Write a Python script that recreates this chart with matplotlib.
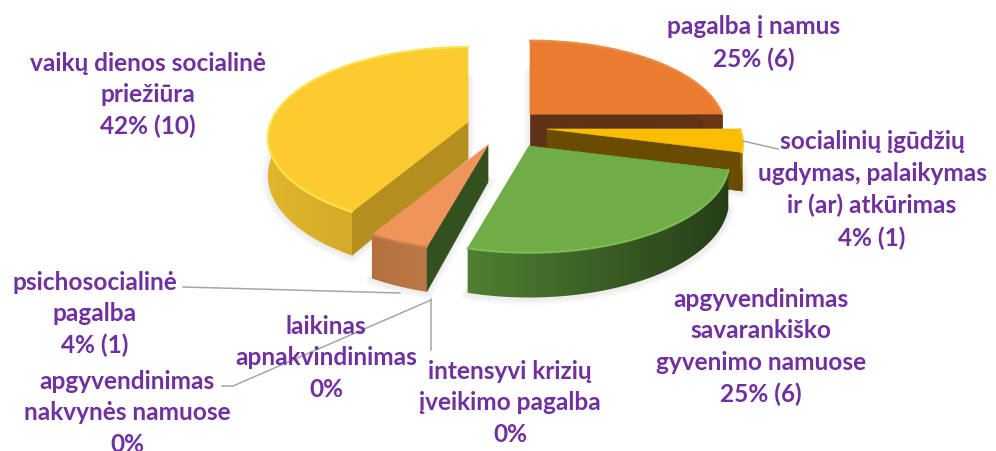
import numpy as np
import matplotlib
matplotlib.use("Agg")
import matplotlib.pyplot as plt
from matplotlib.patches import Polygon
from matplotlib.colors import to_rgb

names = ["pagalba į namus", "socialinių įgūdžių\nugdymas, palaikymas\nir (ar) atkūrimas",
         "apgyvendinimas\nsavarankiško\ngyvenimo namuose", "intensyvi krizių\nįveikimo pagalba",
         "laikinas\napnakvindinimas", "apgyvendinimas\nnakvynės namuose",
         "psichosocialinė\npagalba", "vaikų dienos socialinė\npriežiūra"]
counts = [6, 1, 6, 0, 0, 0, 1, 10]

# offset of each exploded slice from the pie centre, and its size
shift_x = [30, 47, 29, 0, 0, 0, -12, -32]
shift_y = [-13, 2, 19, 0, 0, 0, 18, -5]
scale = [0.975, 0.98, 1.0, 1, 1, 1, 1.0, 1.0]

label_x = [754, 872, 761, 510, 326, 127, 95, 148]
label_y = [43, 190, 347, 403, 358, 413, 314, 95]

top_colors = ["#E97C30", "#FBBD00", "#6FAD47", "#000000", "#000000", "#000000", "#EF945A", "#FBCB2F"]
rim_colors = ["#EE8A45", "#FFCB2A", "#7DBB55", "#000000", "#000000", "#000000", "#C98050", "#FFE04F"]
# outer wall: colour at left and at right end of the slice
wall_left = ["#6A3616", "#8A6500", "#4F7F31", "#000000", "#000000", "#000000", "#B5723F", "#E0B62C"]
wall_right = ["#6A3616", "#8A6500", "#263E18", "#000000", "#000000", "#000000", "#BB7844", "#C29A22"]
# flat cut side: colour on the start edge and the end edge
side_start = ["#5F3116", "#5F3116", "#2C451C", "#000000", "#000000", "#000000", "#32511F", "#B38F20"]
side_end = ["#5F3116", "#6A4C00", "#2C451C", "#000000", "#000000", "#000000", "#B5723F", "#B38F20"]
draw_order = [0, 1, 7, 6, 2]

cx, cy = 500, 128
rx, ry = 197, 88
persp = 0.175
depth = 37
text_color = "#7030A0"
line_color = "#A6A6A6"

z = 1


def next_z():
    global z
    z += 1
    return z


def project(ang, r, ax0, ay0, drop=0.0):
    # ang in degrees clockwise from 12 o'clock, tilted disc with a bit of perspective
    a = np.radians(ang)
    xx = r * np.sin(a)
    yy = r * np.cos(a)
    s = 1 / (1 + persp * yy)
    return ax0 + rx * xx * s, ay0 - ry * yy * s + drop * s


def gradient(c0, c1):
    c0, c1 = np.array(to_rgb(c0)), np.array(to_rgb(c1))
    t = np.linspace(0, 1, 64)[None, :, None]
    return c0[None, None, :] + (c1 - c0)[None, None, :] * t


def draw_slice(ax, i, a0, a1):
    ax0 = cx + shift_x[i]
    ay0 = cy + shift_y[i]
    r = scale[i]

    # soft shadow under the slice
    sx, sy = project(np.linspace(a0, a1, 120), r, ax0, ay0, depth + 1)
    sx = np.r_[ax0, sx, ax0]
    sy = np.r_[ay0 + depth, sy, ay0 + depth]
    zz = next_z()
    for lw in (9, 6, 3):
        ax.plot(sx, sy, color="black", alpha=0.025, lw=lw, zorder=zz)

    # cut sides, only the ones facing the viewer
    for ang, col, show in ((a1, side_end[i], np.sin(np.radians(a1)) > 0.001),
                           (a0, side_start[i], np.sin(np.radians(a0)) < -0.001)):
        if not show:
            continue
        ox, oy = project(ang, r, ax0, ay0)
        bx, by = project(ang, r, ax0, ay0, depth)
        ax.add_patch(Polygon([(ax0, ay0), (ox, oy), (bx, by), (ax0, ay0 + depth)],
                             fc=col, ec=col, lw=0.5, zorder=next_z()))

    # outer wall with a left to right shading
    angs = np.linspace(a0, a1, 120)
    tx, ty = project(angs, r, ax0, ay0)
    bx, by = project(angs, r, ax0, ay0, depth)
    wall = Polygon(np.column_stack([np.r_[tx, bx[::-1]], np.r_[ty, by[::-1]]]),
                   fc="none", ec="none", transform=ax.transData)
    ax.add_patch(wall)
    im = ax.imshow(gradient(wall_left[i], wall_right[i]),
                   extent=[tx.min() - 1, tx.max() + 1, by.max() + 1, ty.min() - 1],
                   aspect="auto", interpolation="bilinear", zorder=next_z())
    im.set_clip_path(wall)

    # top face
    ax.add_patch(Polygon(np.column_stack([np.r_[ax0, tx], np.r_[ay0, ty]]),
                         fc=top_colors[i], ec=top_colors[i], lw=0.5, zorder=next_z()))
    ax.plot(tx, ty, color=rim_colors[i], lw=1.6, solid_capstyle="round", zorder=next_z())


fig = plt.figure(figsize=(9.96, 4.52), dpi=100)
ax = fig.add_axes([0, 0, 1, 1])
ax.axis("off")

total = sum(counts)
edges = np.r_[0, np.cumsum(counts)] / total * 360

for i in draw_order:
    draw_slice(ax, i, edges[i], edges[i + 1])

ax.set_xlim(0, 996)
ax.set_ylim(452, 0)

# leader lines
zz = next_z()
ax.plot([743, 778], [142, 150], color=line_color, lw=1.1, zorder=zz)
ax.plot([183, 400], [288, 294], color=line_color, lw=1.1, zorder=zz)
ax.plot([222, 233, 431], [387, 387, 301], color=line_color, lw=1.1, zorder=zz)
ax.plot([431, 431], [300, 351], color=line_color, lw=1.1, zorder=zz)

for i in range(len(names)):
    pct = round(100 * counts[i] / total)
    txt = f"{names[i]}\n{pct}%"
    if counts[i] > 0:
        txt += f" ({counts[i]})"
    ax.text(label_x[i], label_y[i], txt, ha="center", va="center", color=text_color,
            family="Lato", weight="bold", fontsize=17.6, linespacing=1.45, zorder=zz + 1)

fig.savefig("out.png", dpi=100)
